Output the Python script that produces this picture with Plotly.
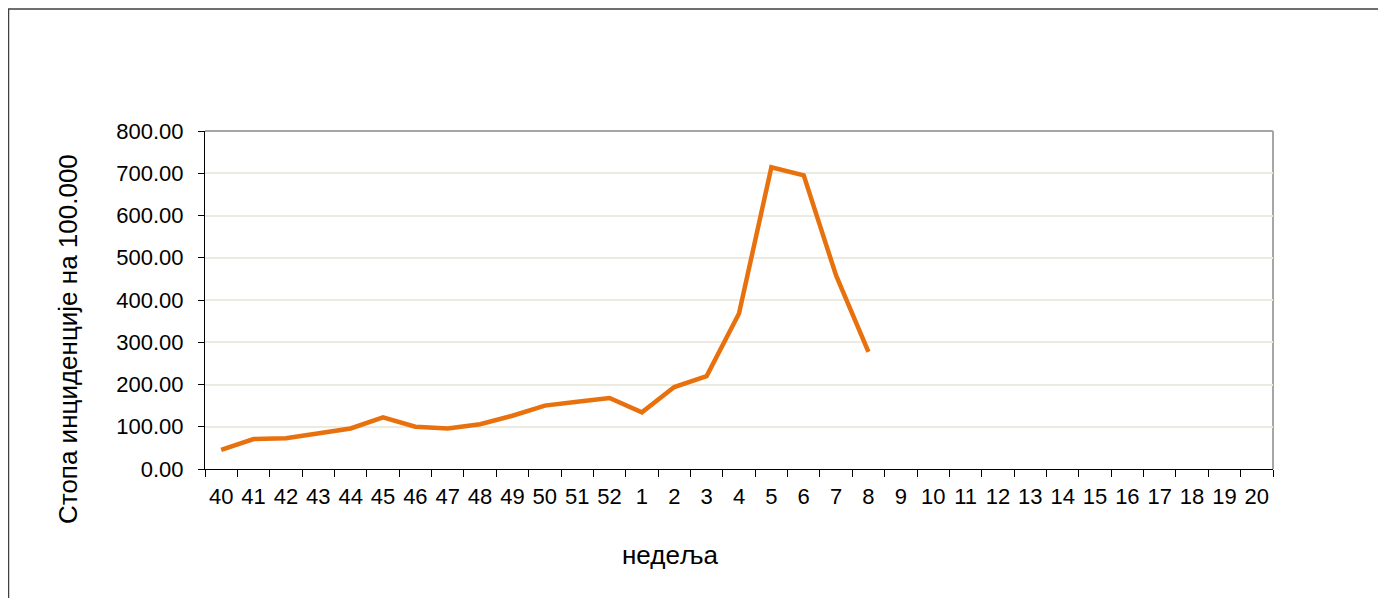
import plotly.graph_objects as go

weeks = [str(w) for w in list(range(40, 53)) + list(range(1, 21))]
rates = [45, 71, 73, 85, 96, 122, 100, 96, 106, 126, 150, 159, 168, 134, 194, 220, 368, 714, 695, 458, 277]
y_ticks = [0, 100, 200, 300, 400, 500, 600, 700, 800]

OFF = 8  # page body margin
W, H = 1386 - OFF, 598 - OFF
L, R, T, B = 205 - OFF, 1273 - OFF, 131 - OFF, 469 - OFF
pw, ph = R - L, B - T

def px(x):
    return (x - OFF - L) / pw

def py(y):
    return (B - (y - OFF)) / ph

tick_font = dict(family="Liberation Sans, Arial, sans-serif", size=22, color="#000000")
title_font = dict(family="Liberation Sans, Arial, sans-serif", size=26, color="#000000")

fig = go.Figure()
fig.add_trace(go.Scatter(
    x=weeks[:len(rates)], y=rates, mode="lines",
    line=dict(color="#E8700D", width=4.5),
    showlegend=False, hoverinfo="x+y",
))

fig.update_layout(
    width=W, height=H,
    margin=dict(l=L, r=W - R, t=T, b=H - B, pad=0),
    paper_bgcolor="white", plot_bgcolor="white",
    font=tick_font,
    xaxis=dict(
        type="category", categoryorder="array", categoryarray=weeks,
        range=[-0.5, len(weeks) - 0.5],
        tickmode="array", tickvals=weeks, ticktext=weeks, tickangle=0,
        tickson="boundaries", ticks="outside", ticklen=7, tickcolor="#000000", tickwidth=1,
        showline=True, linecolor="#000000", linewidth=1, ticklabelstandoff=8,
        showgrid=False, zeroline=False, tickfont=tick_font, fixedrange=True,
    ),
    yaxis=dict(
        range=[0, 800], tickmode="array", tickvals=y_ticks,
        tickformat=".2f", ticks="outside", ticklen=6, tickcolor="#000000",
        showline=True, linecolor="#000000", linewidth=1, ticklabelstandoff=10,
        showgrid=True, gridcolor="#EDEAE0", gridwidth=2,
        zeroline=False, tickfont=tick_font, fixedrange=True,
    ),
    shapes=[
        # outer chart border
        dict(type="rect", xref="paper", yref="paper",
             x0=px(8.5), x1=px(1420), y0=py(640), y1=py(9),
             line=dict(color="#404040", width=1.5), fillcolor="rgba(0,0,0,0)", layer="above"),
        # top and right plot border
        dict(type="line", xref="paper", yref="paper", x0=0, x1=1, y0=1, y1=1,
             line=dict(color="#A6A6A6", width=2), layer="below"),
        dict(type="line", xref="paper", yref="paper", x0=1, x1=1, y0=0, y1=1,
             line=dict(color="#A6A6A6", width=2), layer="below"),
    ],
    annotations=[
        dict(text="Стопа инциденције на 100.000", xref="paper", yref="paper",
             x=px(68), y=py(339), textangle=-90, showarrow=False,
             xanchor="center", yanchor="middle", font=title_font),
        dict(text="недеља", xref="paper", yref="paper",
             x=px(670), y=py(555), showarrow=False,
             xanchor="center", yanchor="middle", font=title_font),
    ],
)

fig.write_html("out.html")
